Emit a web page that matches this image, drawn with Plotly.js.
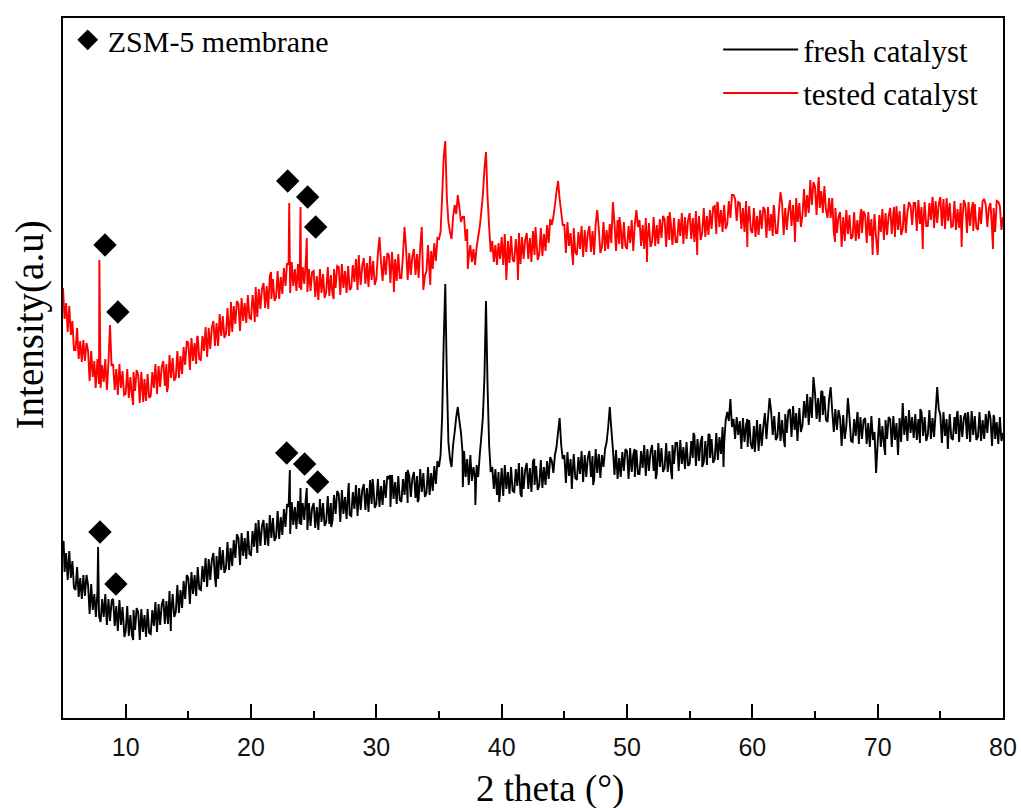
<!DOCTYPE html>
<html>
<head>
<meta charset="utf-8">
<script src="https://cdn.plot.ly/plotly-3.0.1.min.js"></script>
<style>html,body{margin:0;padding:0;background:#fff;}#chart{width:1021px;height:808px;}</style>
</head>
<body>
<div id="chart"></div>
<script>
// Sampling grid of the scans (2 theta, degrees)
const thetaStart = 5;
const thetaStep = 0.125;

// Fresh catalyst: intensity (a.u.) on the 0.125 deg grid, one row per degree, 5..80
const freshBase = [
174,145,164,137,166,139,156,129,
127,150,120,139,118,142,121,142,
132,103,133,107,123,100,126,101,
95,118,100,123,92,118,96,115,
118,91,111,86,117,92,110,85,
86,111,81,102,82,107,87,109,
105,77,108,85,102,80,108,84,
83,107,91,115,85,113,92,112,
118,93,116,93,126,103,123,100,
105,132,104,127,109,136,118,142,
139,113,145,123,142,121,150,128,
127,151,135,159,130,158,137,157,
164,139,161,138,170,147,167,144,
149,175,147,169,151,177,159,182,
179,152,184,161,179,158,186,163,
162,186,170,194,164,192,171,191,
197,172,194,171,202,179,199,176,
180,206,178,200,182,208,190,213,
210,183,215,192,210,188,216,193,
192,214,197,219,187,214,191,209,
214,189,210,187,218,195,214,191,
195,221,193,214,196,222,203,226,
223,195,227,203,220,198,226,202,
201,225,208,232,201,229,207,227,
233,207,229,205,237,213,233,209,
213,238,210,231,212,237,219,241,
238,210,242,218,235,213,241,217,
215,238,222,245,214,241,220,239,
245,219,241,217,248,225,244,220,
224,250,222,244,226,251,233,256,
250,262,300,375,433,340,275,258,
250,272,285,300,310,296,285,265,
266,240,258,232,262,236,250,238,
252,240,262,280,300,340,416,330,
272,245,250,228,248,222,245,225,
249,221,252,228,245,223,250,226,
225,248,231,254,223,250,228,247,
254,228,249,225,256,232,251,227,
232,257,229,250,232,256,238,260,
256,244,262,270,285,299,272,258,
262,234,265,241,258,236,263,239,
237,260,243,266,235,262,240,259,
266,240,261,237,268,244,263,239,
262,250,268,275,290,310,288,268,
242,267,238,259,240,265,246,268,
266,238,269,245,262,240,267,243,
243,266,249,272,241,268,246,265,
272,246,267,243,274,250,269,245,
249,274,245,266,247,272,253,275,
274,246,277,253,270,248,275,251,
253,276,259,282,251,278,256,275,
281,255,276,252,283,259,278,254,
258,284,257,280,263,290,273,297,
305,296,318,290,298,278,300,282,
296,268,299,275,292,270,297,273,
268,291,274,297,266,293,271,290,
304,278,299,319,306,282,301,277,
280,305,276,297,278,303,284,306,
308,280,311,287,304,282,309,285,
292,316,299,323,292,320,299,340,
324,298,319,295,326,302,321,297,
295,318,330,306,285,308,287,307,
299,271,302,278,291,319,300,276,
275,298,281,304,273,300,278,297,
299,273,294,270,301,277,285,244,
274,299,270,291,272,297,278,300,
298,270,301,277,294,262,299,275,
314,282,301,276,307,284,300,279,
303,277,298,274,305,281,300,276,
282,307,278,299,280,305,330,308,
302,274,305,281,298,276,303,279,
277,300,283,306,275,302,280,299,
304,278,299,275,306,282,301,277,
280,305,276,297,278,303,284,306,
299,271,302,278,295,273,300,276,
284
];
// Fresh catalyst: extra sharp reflections and noise spikes between grid points
const freshPeaksX = [5.05,7.8,8.9,9.9,10.6,13.6,17.2,18.9,20.6,23.1,23.95,24.45,26.4,27.8,29.7,31.1,32.5,33.3,36.9,37.9,39.8,41.6,42.6,45.6,47.3,50.6,52.3,53.6,53.9,55.3,56.0,56.6,57.7,59.6,60.2,62.6,63.6,65.6,68.4,70.6,73.4,75.6,76.3,77.2,79.3];
const freshPeaksY = [176,170,117,80,77,86,130,182,197,247,229,229,190,234,238,242,247,215,230,212,215,220,258,228,232,268,238,238,274,284,250,282,250,298,265,270,276,325,305,262,308,268,300,305,300];

// Tested catalyst: intensity (a.u.) on the 0.125 deg grid, one row per degree, 5..80
const testedBase = [
429,398,414,385,411,382,396,367,
367,389,358,376,355,377,356,374,
366,336,366,340,356,333,358,333,
329,352,335,358,327,354,392,351,
353,327,348,322,353,329,346,322,
323,348,319,340,321,345,326,347,
342,314,345,321,338,316,343,319,
321,345,329,353,323,351,330,350,
356,331,353,330,362,339,359,336,
340,366,339,361,343,370,352,376,
374,347,379,356,374,353,381,358,
357,381,366,390,360,389,368,389,
396,371,394,371,403,381,401,379,
383,409,381,403,385,411,393,416,
413,386,419,396,414,394,422,399,
398,422,406,430,400,428,408,428,
434,409,431,408,441,418,438,416,
420,446,418,440,423,449,431,454,
452,424,455,431,448,426,453,429,
427,450,433,456,425,448,426,445,
446,420,441,417,448,424,443,419,
425,450,421,442,423,448,429,451,
450,422,453,429,446,424,451,427,
429,452,435,458,427,454,432,451,
459,433,454,430,461,437,456,432,
438,463,480,455,436,461,442,464,
462,434,465,441,458,436,463,439,
439,462,490,468,437,464,442,461,
468,442,463,439,470,490,427,441,
446,472,444,466,448,474,456,479,
478,485,520,560,576,520,495,485,
478,500,512,503,522,510,495,500,
500,476,488,460,472,455,468,452,
470,480,490,505,522,548,565,520,
490,465,476,455,472,452,474,458,
480,452,483,437,476,454,481,457,
455,478,461,484,453,480,458,477,
484,458,479,455,486,462,481,457,
463,489,461,483,466,492,474,498,
492,500,512,525,536,518,505,492,
492,464,495,471,484,462,489,465,
462,485,468,491,460,487,465,484,
491,465,486,462,493,507,488,464,
470,495,466,487,468,493,474,515,
494,466,497,473,490,468,495,471,
468,491,474,497,466,493,507,490,
497,471,492,468,499,475,494,470,
475,500,471,492,473,498,479,501,
498,470,501,477,494,472,499,475,
475,498,481,504,473,500,478,497,
504,478,499,475,506,482,501,477,
484,509,480,501,482,507,488,510,
511,483,514,490,507,485,512,488,
493,516,499,522,522,518,496,515,
514,488,509,485,516,492,511,487,
484,509,480,501,482,507,488,510,
507,479,510,486,503,481,508,484,
484,507,525,513,482,509,487,506,
517,491,512,488,519,495,514,490,
502,528,500,522,504,537,512,535,
530,502,533,509,526,504,531,507,
499,519,499,519,485,509,484,500,
505,470,500,476,507,483,502,478,
480,505,476,497,478,503,484,506,
502,474,505,481,498,476,503,479,
462,502,485,508,477,504,482,501,
509,483,504,480,511,487,506,482,
488,513,484,505,515,511,492,514,
514,486,517,493,510,488,515,491,
491,514,497,520,489,516,494,513,
520,491,518,488,519,496,514,490,
491,516,487,508,489,514,495,517,
512,484,515,491,508,486,513,489,
487,510,493,516,518,512,490,509,
514,488,509,485,516,515,511,487,
500
];
// Tested catalyst: extra sharp reflections and noise spikes between grid points
const testedPeaksX = [7.6,7.9,10.6,11.4,13.3,15.7,18.4,20.3,21.6,23.05,23.95,24.45,26.6,28.6,31.4,34.3,37.3,41.3,42.7,45.7,49.4,51.6,53.4,55.6,57.2,59.6,61.7,63.4,65.3,66.6,68.7,69.6,71.3,73.6,74.4,76.7,77.6,79.2];
const testedPeaksY = [329,457,312,315,325,380,415,395,445,514,510,479,418,462,425,432,448,437,490,452,500,455,505,462,515,470,512,475,540,475,508,462,510,468,518,470,515,468];

// ZSM-5 membrane reflections marked with diamonds
const zsmX = [8.35,9.38,22.93,24.52,25.16, 7.95,9.22,22.85,24.28,25.32];
const zsmY = [472,405,536,520,490, 185,133,264,253,235];

// Axis ticks
const tickVals = [10,20,30,40,50,60,70,80];
const tickText = ['10','20','30','40','50','60','70','80'];
const minorTickVals = [5,15,25,35,45,55,65,75];

function buildScan(base, px, py){
  const pts = base.map((v,i)=>[thetaStart + i*thetaStep, v]);
  for (let i=0;i<px.length;i++) pts.push([px[i], py[i]]);
  pts.sort((a,b)=>a[0]-b[0]);
  return {x: pts.map(p=>p[0]), y: pts.map(p=>p[1])};
}
const fresh = buildScan(freshBase, freshPeaksX, freshPeaksY);
const tested = buildScan(testedBase, testedPeaksX, testedPeaksY);

const serif = 'Liberation Serif, Times New Roman, serif';
const sans = 'Liberation Sans, Arial, sans-serif';

const traces = [
  {x: fresh.x, y: fresh.y, type:'scatter', mode:'lines', name:'fresh catalyst',
   line:{color:'#000000', width:1.9, simplify:false}, legend:'legend2'},
  {x: tested.x, y: tested.y, type:'scatter', mode:'lines', name:'tested catalyst',
   line:{color:'#ff0000', width:1.9, simplify:false}, legend:'legend3'},
  {x: zsmX, y: zsmY, type:'scatter', mode:'markers', name:'ZSM-5 membrane',
   marker:{symbol:'diamond', size:18, color:'#000000'}, legend:'legend'}
];

const layout = {
  width:1021, height:808,
  paper_bgcolor:'#ffffff', plot_bgcolor:'#ffffff',
  margin:{l:63, r:18, t:18, b:90},
  showlegend:true,
  xaxis:{range:[5,80], tickvals:tickVals, ticktext:tickText, ticks:'inside', ticklen:14, tickwidth:2,
         tickcolor:'#000', showline:true, linewidth:2, linecolor:'#000', mirror:true, showgrid:false,
         zeroline:false, tickfont:{family:sans, size:25, color:'#111'}, ticklabelstandoff:6,
         minor:{tickvals:minorTickVals, ticks:'inside', ticklen:7, tickwidth:2, tickcolor:'#000', showgrid:false}},
  yaxis:{range:[-1,699], showticklabels:false, ticks:'', showline:true, linewidth:2, linecolor:'#000',
         mirror:true, showgrid:false, zeroline:false},
  legend:{x:0.005, y:1.006, xanchor:'left', yanchor:'top', bgcolor:'rgba(0,0,0,0)',
          font:{family:serif, size:30, color:'#000'}},
  legend2:{x:0.697, y:0.993, xanchor:'left', yanchor:'top', bgcolor:'rgba(0,0,0,0)', itemwidth:75,
          font:{family:serif, size:31, color:'#000'}},
  legend3:{x:0.697, y:0.931, xanchor:'left', yanchor:'top', bgcolor:'rgba(0,0,0,0)', itemwidth:75,
          font:{family:serif, size:31, color:'#000'}},
  annotations:[
    {text:'2 theta (°)', xref:'paper', yref:'paper', x:0.518, y:-0.101, xanchor:'center', yanchor:'middle',
     showarrow:false, font:{family:serif, size:37, color:'#000'}},
    {text:'Intensity(a.u)', xref:'paper', yref:'paper', x:-0.035, y:0.561, xanchor:'center', yanchor:'middle',
     textangle:-90, showarrow:false, font:{family:serif, size:39, color:'#000'}}
  ]
};

Plotly.newPlot('chart', traces, layout, {displayModeBar:false, staticPlot:true});
</script>
</body>
</html>
